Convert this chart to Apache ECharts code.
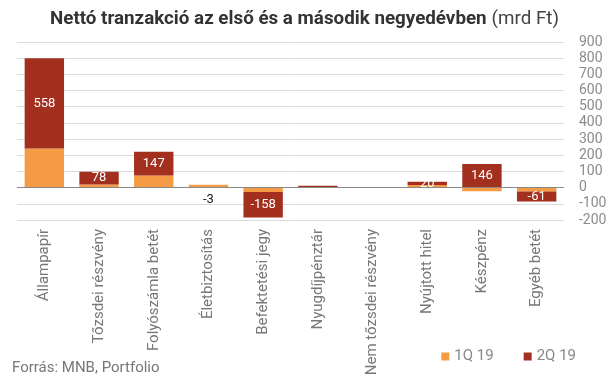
<!DOCTYPE html>
<html><head><meta charset="utf-8">
<script src="https://cdn.jsdelivr.net/npm/echarts@6/dist/echarts.min.js"></script>
<style>html,body{margin:0;padding:0;background:#fff}#c{width:609px;height:378px}</style>
</head><body><div id="c"></div>
<script>
const categories = ['Állampapír','Tőzsdei részvény','Folyószámla betét','Életbiztosítás','Befektetési jegy','Nyugdíjpénztár','Nem tőzsdei részvény','Nyújtott hitel','Készpénz','Egyéb betét'];
const q1 = [242, 20, 75, 18, -27, 0, 0, 17, -22, -24];
const q2 = [558, 78, 147, -3, -158, 12, 0, 20, 146, -61];
const q2Labeled = [true, true, true, true, true, false, false, true, true, true];
const yTicks = [-200, 900, 100];
const seriesNames = ['1Q 19', '2Q 19'];

const chart = echarts.init(document.getElementById('c'));
const q2Data = q2.map((v, i) => {
  const d = { value: v };
  if (!q2Labeled[i]) d.label = { show: false };
  else if (Math.abs(v) < 10) d.label = { show: true, position: 'bottom', color: '#222', distance: 5 };
  return d;
});
chart.setOption({
  animation: false,
  title: {
    text: '{b|Nettó tranzakció az első és a második negyedévben} {n|(mrd Ft)}',
    left: 'center', top: 5,
    textStyle: { fontWeight: 'normal', rich: {
      b: { fontFamily: 'Roboto', fontWeight: 'bold', fontSize: 18.8, color: '#333' },
      n: { fontFamily: 'Roboto', fontWeight: 'normal', fontSize: 18.8, color: '#444' }
    } }
  },
  grid: { left: 17, right: 45, top: 42, bottom: 158, containLabel: false, outerBoundsMode: 'none' },
  legend: {
    data: seriesNames, right: 28, top: 344, itemWidth: 8, itemHeight: 8, itemGap: 30,
    icon: 'rect', textStyle: { fontFamily: 'Roboto', fontSize: 15, color: '#888' }
  },
  graphic: [{ type: 'text', left: 12, top: 361, style: { text: 'Forrás: MNB, Portfolio', font: '15px Roboto', fill: '#777' } }],
  xAxis: {
    type: 'category', data: categories,
    axisLine: { show: false, onZero: false }, axisTick: { show: false },
    axisLabel: { rotate: 90, interval: 0, margin: 9, fontFamily: 'Roboto', fontSize: 15, color: '#777' }
  },
  yAxis: {
    type: 'value', position: 'right', min: yTicks[0], max: yTicks[1], interval: yTicks[2],
    axisLine: { show: false }, axisTick: { show: false },
    axisLabel: { margin: 15, fontFamily: 'Roboto', fontSize: 14, color: '#8c8c8c' },
    splitLine: { lineStyle: { color: '#dcdcdc', width: 1 } }
  },
  series: [
    { name: seriesNames[0], type: 'bar', stack: 's', data: q1, barCategoryGap: '28%',
      itemStyle: { color: '#F59B45' },
      markLine: { silent: true, symbol: 'none', label: { show: false },
        lineStyle: { color: '#888', type: 'solid', width: 1 }, data: [{ yAxis: 0 }] } },
    { name: seriesNames[1], type: 'bar', stack: 's', data: q2Data,
      itemStyle: { color: '#A3301F' },
      label: { show: true, position: 'inside', color: '#fff', fontFamily: 'Roboto', fontSize: 13 } }
  ]
});
</script></body></html>
